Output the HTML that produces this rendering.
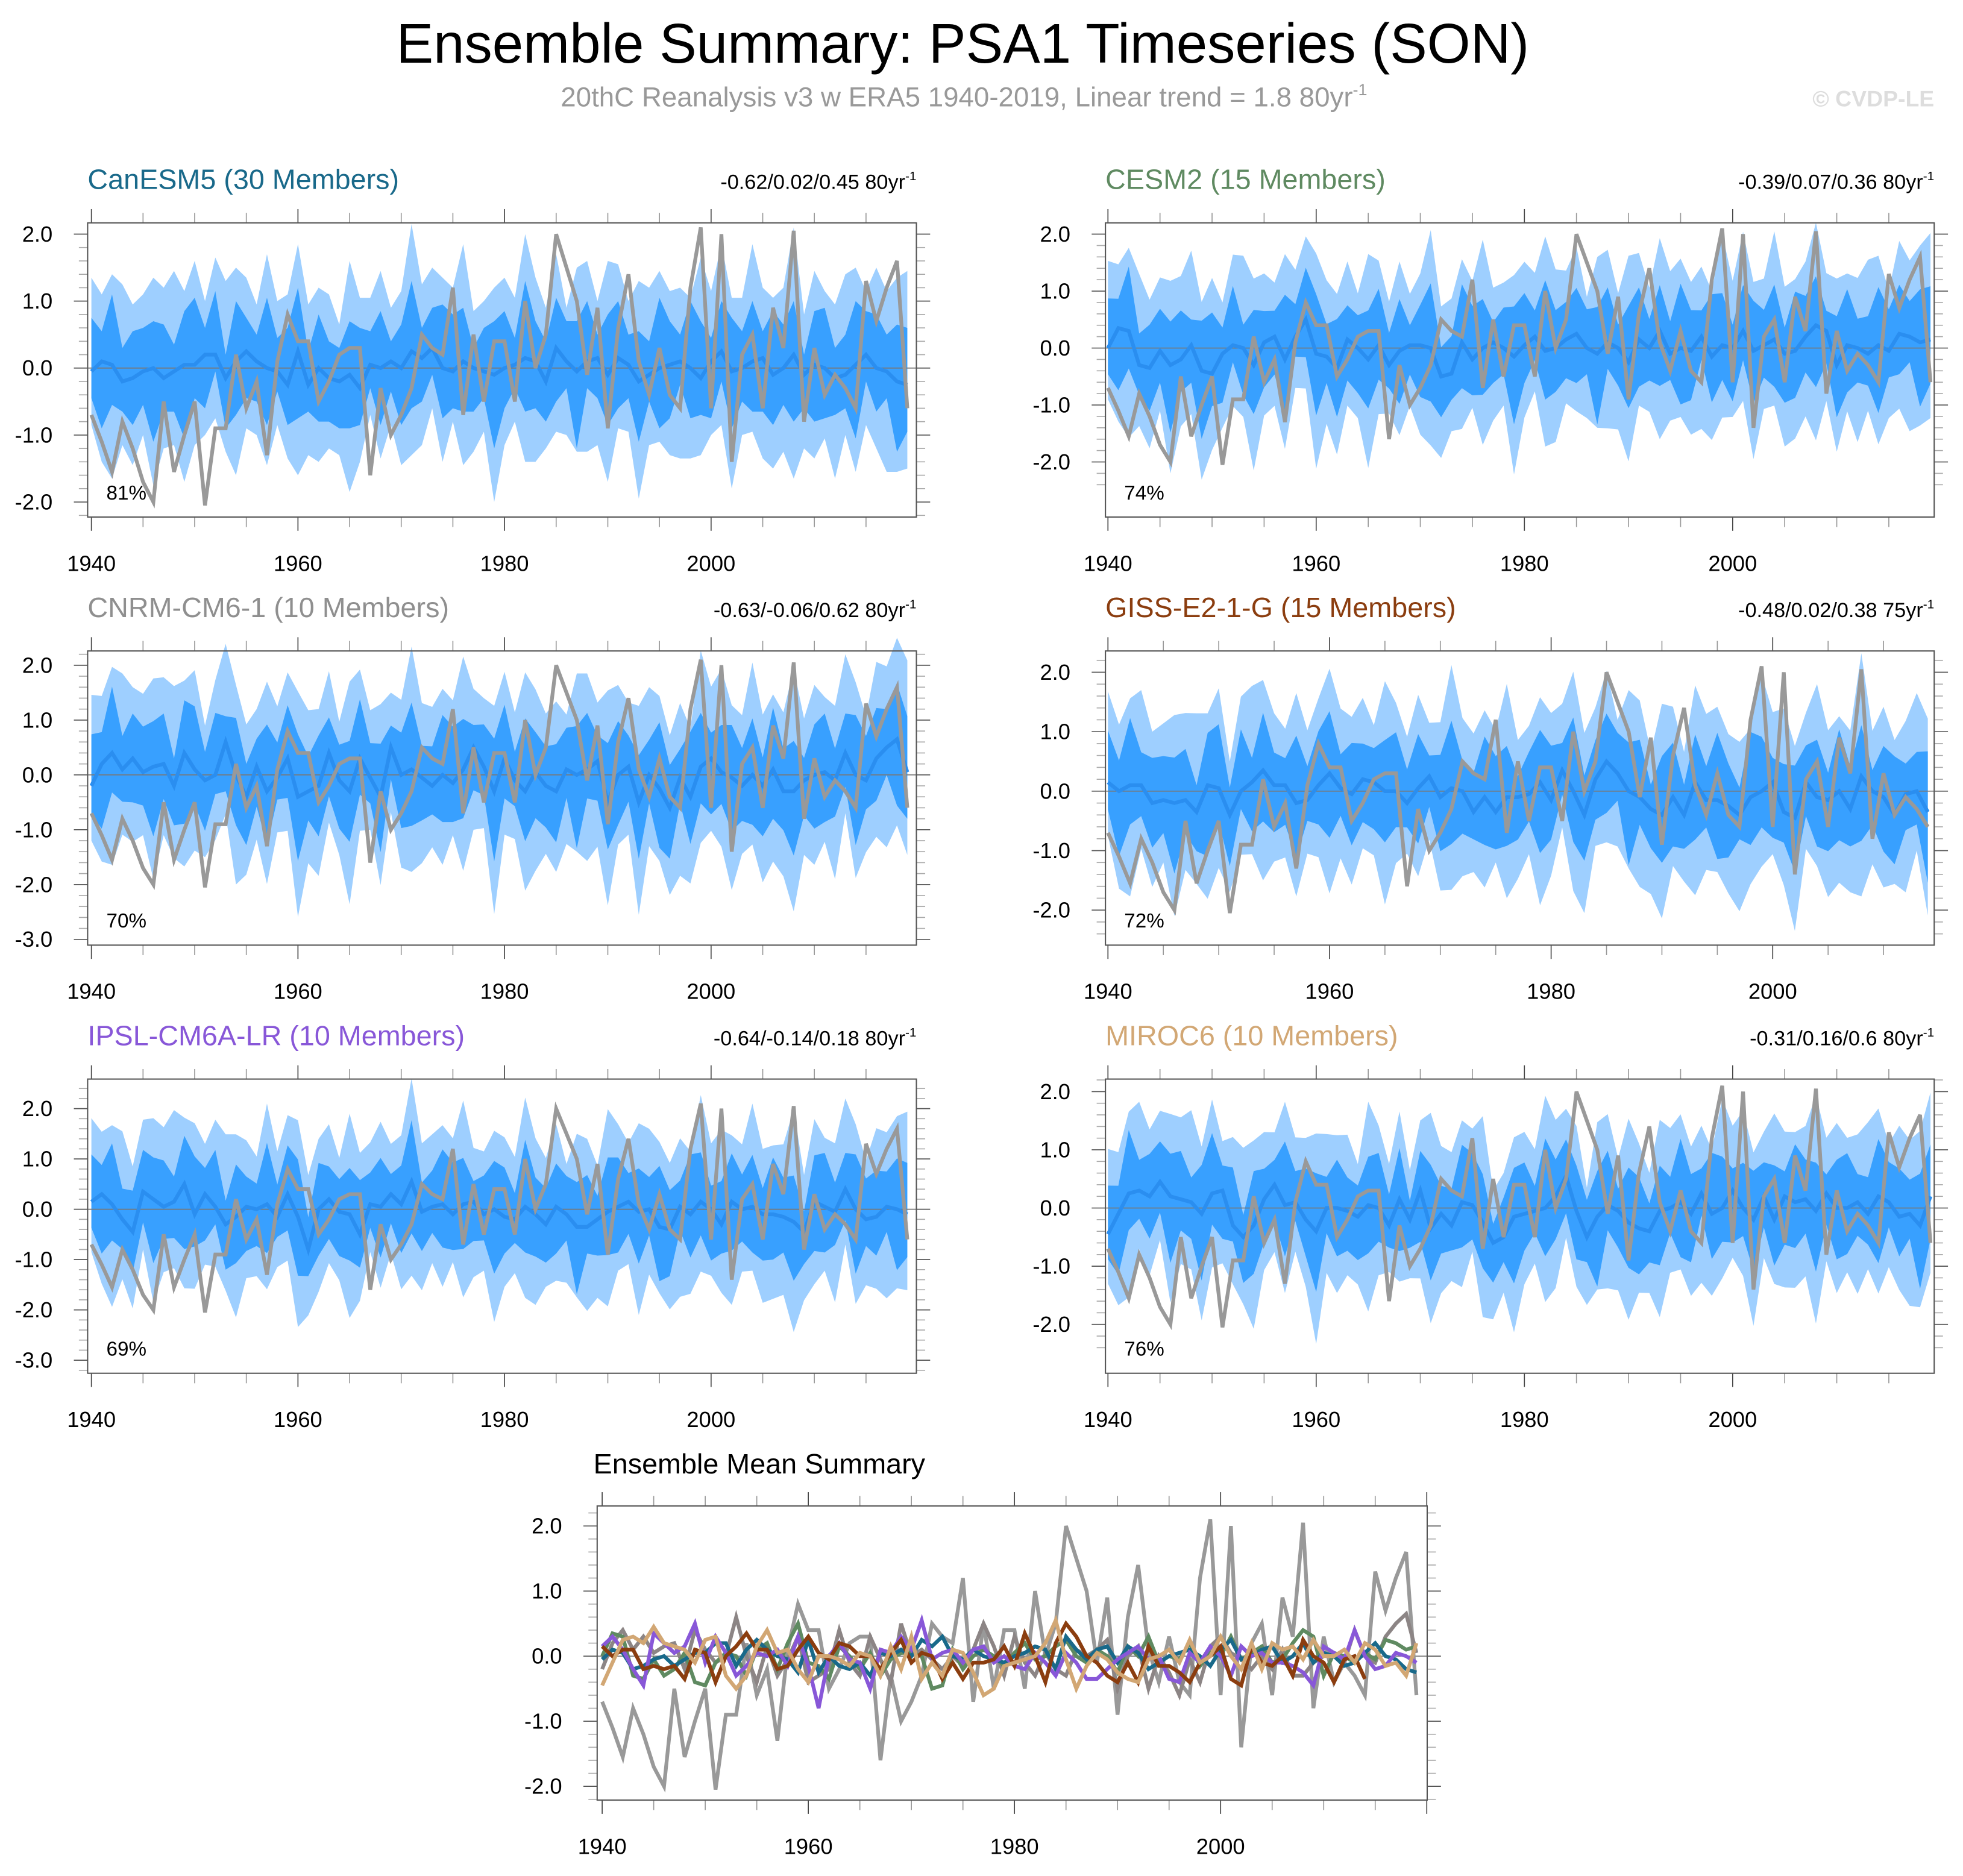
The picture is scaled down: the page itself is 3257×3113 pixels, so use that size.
<!DOCTYPE html>
<html><head><meta charset="utf-8">
<style>
html,body{margin:0;padding:0;background:#fff;}
svg{display:block;font-family:"Liberation Sans",sans-serif;}
</style></head>
<body>
<svg id="chart" width="3257" height="3113" viewBox="0 0 1568 1498.6" xmlns="http://www.w3.org/2000/svg">
<text x="769" y="50" font-size="44.5" text-anchor="middle" fill="#000">Ensemble Summary: PSA1 Timeseries (SON)</text>
<text x="770" y="85" font-size="22" text-anchor="middle" fill="#999">20thC Reanalysis v3 w ERA5 1940-2019, Linear trend = 1.8 80yr<tspan dy="-9" font-size="13">-1</tspan></text>
<text x="1545" y="85" font-size="18" font-weight="bold" text-anchor="end" fill="#ddd">© CVDP-LE</text>
<g id="panels"></g>
</svg>
<script>
const NS="http://www.w3.org/2000/svg";
const years=[];for(let y=1940;y<=2019;y++)years.push(y);
const obs=[-0.7,-1.1,-1.55,-0.8,-1.2,-1.7,-2.0,-0.5,-1.55,-1.0,-0.5,-2.05,-0.9,-0.9,0.2,-0.6,-0.2,-1.3,0.1,0.8,0.4,0.4,-0.5,-0.2,0.2,0.3,0.3,-1.6,-0.3,-1.0,-0.7,-0.3,0.5,0.3,0.2,1.2,-0.7,0.5,-0.5,0.4,0.4,-0.5,1.0,0.0,0.5,2.0,1.5,1.0,-0.1,0.9,-0.9,0.6,1.4,0.1,-0.4,0.3,-0.4,-0.6,1.2,2.1,-0.6,2.0,-1.4,0.2,0.5,-0.6,0.9,0.3,2.05,-0.8,0.3,-0.4,-0.1,-0.3,-0.6,1.3,0.7,1.2,1.6,-0.6];
const meanCan=[-0.05,0.1,0.05,-0.2,-0.15,-0.05,0.0,-0.15,-0.05,0.05,0.05,0.2,0.2,-0.15,0.1,0.25,0.1,0.0,-0.05,-0.25,0.25,-0.25,0.0,-0.15,-0.2,-0.1,-0.3,0.05,0.0,0.1,0.0,0.25,0.15,0.3,0.0,-0.05,0.1,0.0,-0.05,-0.1,0.0,0.05,0.15,0.1,-0.2,0.3,0.1,-0.05,0.1,0.15,-0.1,0.15,0.05,-0.2,-0.1,0.0,0.05,0.1,0.0,-0.15,0.1,0.25,-0.05,0.0,0.1,0.15,-0.1,0.0,0.2,-0.1,0.05,0.0,-0.15,-0.1,0.05,0.2,0.0,-0.05,-0.2,-0.25];
const meanCesm=[0.0,0.35,0.3,-0.3,-0.35,-0.05,-0.3,-0.2,0.05,-0.4,-0.45,-0.1,0.05,0.0,-0.3,0.1,0.2,-0.2,0.2,0.5,-0.1,-0.15,-0.35,0.15,0.0,-0.2,0.05,-0.3,-0.05,0.05,0.05,0.0,-0.5,-0.45,0.1,-0.2,0.0,0.1,0.0,-0.15,0.05,0.2,-0.05,0.0,0.15,0.25,0.0,-0.1,0.1,0.0,-0.25,0.15,0.0,0.3,-0.1,0.0,-0.05,0.2,-0.15,0.05,0.0,0.3,-0.05,0.05,0.15,-0.1,-0.05,0.2,0.4,0.3,-0.3,0.05,0.0,-0.1,0.05,-0.05,0.25,0.2,0.1,0.15];
const meanCnrm=[-0.2,0.2,0.4,0.1,0.3,0.05,0.15,0.2,-0.2,0.4,0.1,-0.1,0.0,0.6,0.0,-0.4,0.15,-0.3,-0.05,0.3,-0.4,-0.3,-0.2,0.4,-0.1,-0.3,0.3,-0.05,-0.4,0.5,0.0,0.1,-0.05,-0.2,0.0,-0.15,0.1,0.5,0.15,-0.3,0.3,-0.1,-0.3,0.05,-0.2,-0.3,0.1,0.0,0.1,0.25,-0.5,0.0,0.15,-0.5,0.0,-0.25,-0.6,-0.05,-0.4,0.15,0.3,0.05,-0.05,-0.2,0.0,-0.2,0.1,-0.3,-0.3,-0.1,0.0,0.05,-0.1,0.4,0.0,-0.1,0.3,0.5,0.65,0.05];
const meanGiss=[0.15,0.0,0.1,0.1,-0.2,-0.15,-0.2,-0.15,-0.35,0.1,0.05,-0.4,0.0,0.15,0.35,0.1,0.1,-0.2,-0.15,0.1,0.3,0.05,-0.05,0.2,0.15,0.0,0.0,-0.2,0.05,0.25,-0.1,0.05,0.0,-0.35,-0.1,-0.35,-0.1,-0.1,-0.05,0.15,-0.15,0.35,0.0,-0.4,0.2,0.5,0.3,0.0,-0.1,-0.3,-0.4,-0.1,-0.4,0.15,-0.15,-0.15,-0.25,-0.4,-0.1,0.0,0.15,-0.35,-0.45,0.15,-0.1,-0.15,0.0,-0.3,0.25,0.0,-0.1,-0.4,-0.05,0.0,-0.35,0.25,0.05,0.0,0.2,0.0];
const meanIpsl=[0.15,0.3,0.1,-0.2,-0.45,0.35,0.2,0.05,0.15,0.5,-0.1,0.3,0.05,-0.3,-0.15,0.05,0.0,0.1,-0.15,0.3,-0.15,-0.8,0.0,0.2,-0.05,-0.1,-0.5,0.1,0.05,0.3,0.1,0.55,-0.05,0.05,0.1,-0.1,0.1,0.15,-0.1,0.0,-0.15,-0.2,0.05,-0.1,-0.3,0.05,-0.1,-0.35,-0.35,-0.2,-0.05,0.05,0.15,-0.05,0.0,-0.35,-0.4,0.05,-0.1,0.15,0.0,-0.3,0.15,0.0,0.05,-0.1,-0.1,-0.15,-0.25,-0.45,0.15,0.05,-0.05,0.4,0.0,-0.2,-0.15,0.05,0.0,-0.1];
const meanMiroc=[-0.45,-0.1,0.25,0.3,0.2,0.45,0.2,0.15,0.1,-0.1,0.25,0.3,-0.3,-0.5,-0.3,0.15,0.4,0.05,0.1,-0.2,-0.4,0.0,0.0,-0.05,-0.15,0.05,0.0,-0.3,0.15,-0.2,0.3,-0.35,-0.1,-0.3,0.1,0.05,-0.25,-0.6,-0.5,-0.15,-0.1,-0.05,0.0,0.2,0.55,-0.05,-0.5,-0.15,0.05,-0.05,-0.25,-0.35,-0.4,-0.05,0.0,0.1,-0.1,0.25,-0.1,0.0,0.3,0.0,-0.2,0.2,-0.2,0.2,0.1,0.15,-0.05,0.25,0.0,0.0,0.1,-0.1,0.2,0.1,-0.15,-0.1,-0.3,0.2];
const innerW=[0.7,0.65,0.8,0.55,0.6,0.9,0.65,0.6,0.5,0.8,0.75,0.6,0.9,0.6,0.7,0.5,0.55,0.85,0.7,0.6,0.95,0.7,0.6,0.5,0.75,0.6,0.9,0.65,0.6,0.5,0.6,0.85,0.65,0.6,0.7,0.9,0.6,0.55,0.6,0.8,0.65,0.6,0.9,0.65,0.6,0.55,0.8,0.7,0.65,0.6,0.9,0.65,0.6,0.55,0.7,0.8,0.65,0.6,0.95,0.65,0.6,0.55,0.8,0.7,0.65,0.6,0.9,0.65,0.6,0.55,0.6,0.85,0.65,0.6,0.7,0.8,0.6,0.75,0.8,0.85];
const outerW=[1.3,1.2,1.1,1.5,1.0,1.4,1.3,1.15,1.6,1.1,1.3,1.0,1.4,1.7,1.2,1.1,1.0,1.5,1.25,1.1,1.6,1.4,1.0,1.2,1.1,1.5,1.35,1.15,1.2,1.0,1.1,1.7,1.3,1.2,1.1,1.3,1.55,1.1,1.0,1.3,1.15,1.2,1.6,1.3,1.1,1.2,1.0,1.5,1.25,1.1,1.7,1.2,1.1,1.3,1.5,1.2,1.1,1.3,1.0,1.6,1.3,1.4,1.1,1.2,1.5,1.25,1.1,1.2,1.7,1.15,1.2,1.1,1.3,1.5,1.2,1.1,1.3,1.4,1.5,1.7];
const skew=[0.1,-0.2,0.25,-0.05,0.1,-0.25,0.05,0.2,-0.1,0.0,0.25,-0.2,0.05,-0.25,0.2,0.0,-0.15,0.2,-0.2,0.25,0.0,-0.2,0.2,0.05,-0.25,0.2,0.0,-0.15,0.25,-0.2,0.05,0.2,-0.2,0.0,0.25,-0.05,0.2,-0.25,0.05,0.0,0.2,-0.2,0.25,-0.05,0.0,0.2,-0.2,0.05,0.25,-0.25,0.0,0.2,-0.15,0.2,-0.2,0.25,0.0,-0.2,0.05,0.2,-0.25,0.2,0.0,-0.15,0.25,-0.2,0.05,0.0,0.2,-0.25,0.2,0.05,-0.2,0.0,0.25,-0.15,0.2,-0.2,0.05,0.0];
const xTickLabels=["1940","1960","1980","2000"];
const yTicks2=[2,1,0,-1,-2];
const yTicks3=[2,1,0,-1,-2,-3];

const models=[
 {name:"CanESM5 (30 Members)",color:"#19698a",mean:meanCan,scale:1.0,stat:"-0.62/0.02/0.45 80yr",pct:"81%",box:[70,178,732,413],yA:73,yB:568,z:294,u:53.5,ticks:yTicks2,ymin:-2.2,ymax:2.2,ny:80},
 {name:"CESM2 (15 Members)",color:"#5f8a61",mean:meanCesm,scale:1.1,stat:"-0.39/0.07/0.36 80yr",pct:"74%",box:[883,178,1545,413],yA:885,yB:1384,z:278,u:45.5,ticks:yTicks2,ymin:-2.8,ymax:2.2,ny:80},
 {name:"CNRM-CM6-1 (10 Members)",color:"#8f8f8f",mean:meanCnrm,scale:1.2,stat:"-0.63/-0.06/0.62 80yr",pct:"70%",box:[70,520,732,755],yA:73,yB:568,z:619,u:43.8,ticks:yTicks3,ymin:-3.0,ymax:2.5,ny:80},
 {name:"GISS-E2-1-G (15 Members)",color:"#8b3d0f",mean:meanGiss,scale:1.1,stat:"-0.48/0.02/0.38 75yr",pct:"72%",box:[883,520,1545,755],yA:885,yB:1416,z:632,u:47.5,ticks:yTicks2,ymin:-2.6,ymax:2.4,ny:75},
 {name:"IPSL-CM6A-LR (10 Members)",color:"#8857d8",mean:meanIpsl,scale:1.2,stat:"-0.64/-0.14/0.18 80yr",pct:"69%",box:[70,862,732,1097],yA:73,yB:568,z:966,u:40.2,ticks:yTicks3,ymin:-3.2,ymax:2.6,ny:80},
 {name:"MIROC6 (10 Members)",color:"#d2a774",mean:meanMiroc,scale:1.05,stat:"-0.31/0.16/0.6 80yr",pct:"76%",box:[883,862,1545,1097],yA:885,yB:1384,z:965,u:46.5,ticks:yTicks2,ymin:-2.6,ymax:2.6,ny:80}
];
const root=document.getElementById('panels');
function mk(tag,attrs,parent){const e=document.createElementNS(NS,tag);for(const k in attrs)e.setAttribute(k,attrs[k]);(parent||root).appendChild(e);return e;}
function clampY(v,p){return Math.max(p.ymin,Math.min(p.ymax,v));}

function axes(g,p){
  const [x0,y0,x1,y1]=p.box;
  const xs=y=>p.yA+(y-1940)*(p.yB-p.yA)/60;
  const ys=v=>p.z-v*p.u;
  for(let y=1940;y<=1940+p.ny;y+=5){const x=xs(y);if(x>x1+0.5)break;
    const maj=(y-1940)%20===0;const L=maj?11:8;
    const t1=mk('line',{x1:x,x2:x,y1:y1,y2:y1+L,stroke:maj?'#444':'#999','stroke-width':0.8},g);
    
    mk('line',{x1:x,x2:x,y1:y0,y2:y0-L,stroke:maj?'#444':'#999','stroke-width':0.8},g);
  }
  xTickLabels.forEach(l=>{const t=mk('text',{x:xs(+l),y:y1+43,'font-size':17.5,'text-anchor':'middle'},g);t.textContent=l;
    });
  const tmin=Math.min(...p.ticks),tmax=Math.max(...p.ticks);
  for(let v=tmin-0.4;v<=tmax+0.45;v+=0.2){const y=ys(v);if(y<y0||y>y1)continue;
    const maj=Math.abs(v-Math.round(v))<0.01;const L=maj?11:7;
    mk('line',{x1:x0,x2:x0-L,y1:y,y2:y,stroke:maj?'#555':'#aaa','stroke-width':0.8},g);
    mk('line',{x1:x1,x2:x1+L,y1:y,y2:y,stroke:maj?'#555':'#aaa','stroke-width':0.8},g);
  }
  p.ticks.forEach(v=>{const t=mk('text',{x:x0-28,y:ys(v)+6,'font-size':17.5,'text-anchor':'end'},g);t.textContent=v.toFixed(1);
    });
  return {xs,ys};
}

models.forEach((p,i)=>{
  const g=mk('g',{});
  
  
  const [x0,y0,x1,y1]=p.box;
  const {xs,ys}=axes(g,p);
  const n=p.ny;
  const up=(arr,w)=>arr.slice(0,n).map((m,k)=>[xs(years[k]),ys(clampY(m+w[k]*p.scale+skew[k],p))]);
  const dn=(arr,w)=>arr.slice(0,n).map((m,k)=>[xs(years[k]),ys(clampY(m-w[(k+11)%80]*p.scale+skew[(k+7)%80],p))]);
  const poly=(a,b)=>a.concat(b.reverse()).map(q=>q.join(',')).join(' ');
  const outer=mk('polygon',{points:poly(up(p.mean,outerW),dn(p.mean,outerW)),fill:'#9ecfff'},g);
  
  const inner=mk('polygon',{points:poly(up(p.mean,innerW),dn(p.mean,innerW)),fill:'#38a0ff'},g);
  
  const zl=mk('line',{x1:x0,x2:x1,y1:ys(0),y2:ys(0),stroke:'#777','stroke-width':0.8},g);
  
  const ml=mk('polyline',{points:p.mean.slice(0,n).map((v,k)=>xs(years[k])+','+ys(v)).join(' '),fill:'none',stroke:'#2a8ef0','stroke-width':3},g);
  
  const ol=mk('polyline',{points:obs.map((v,k)=>xs(years[k])+','+ys(v)).filter((q,k)=>xs(years[k])<=x1+1).join(' '),fill:'none',stroke:'#999','stroke-width':3},g);
  
  const bx=mk('rect',{x:x0,y:y0,width:x1-x0,height:y1-y0,fill:'none',stroke:'#555','stroke-width':1},g);
  
  const tt=mk('text',{x:x0,y:y0-27,'font-size':22.5,fill:p.color},g);tt.textContent=p.name;
  
  const st=mk('text',{x:x1,y:y0-27,'font-size':16.5,'text-anchor':'end'},g);st.textContent=p.stat;
  const sp=mk('tspan',{dy:-7,'font-size':10},st);sp.textContent='-1';
  
  const pc=mk('text',{x:x0+15,y:y1-14,'font-size':16},g);pc.textContent=p.pct;
  
});

(function(){
  const p={box:[477,1203,1140,1438],yA:481,yB:975,z:1323,u:52,ticks:yTicks2,ny:80};
  const g=mk('g',{});
  
  
  const {xs,ys}=axes(g,p);
  const zl=mk('line',{x1:p.box[0],x2:p.box[2],y1:ys(0),y2:ys(0),stroke:'#777','stroke-width':0.8},g);
  
  const ol=mk('polyline',{points:obs.map((v,k)=>xs(years[k])+','+ys(v)).join(' '),fill:'none',stroke:'#999','stroke-width':3},g);
  
  const cols=["#19698a","#5f8a61","#8c8585","#8b3d0f","#8857d8","#d2a774"];
  const order=[2,1,0,4,3,5];
  order.forEach(i=>{const m=models[i];
    const l=mk('polyline',{points:m.mean.slice(0,m.ny).map((v,k)=>xs(years[k])+','+ys(v)).join(' '),fill:'none',stroke:cols[i],'stroke-width':3},g);
    
    
  });
  const bx=mk('rect',{x:p.box[0],y:p.box[1],width:p.box[2]-p.box[0],height:p.box[3]-p.box[1],fill:'none',stroke:'#555','stroke-width':1},g);
  
  const tt=mk('text',{x:p.box[0]-3,y:p.box[1]-26,'font-size':22.5},g);tt.textContent='Ensemble Mean Summary';
  
})();
</script>
</body></html>
